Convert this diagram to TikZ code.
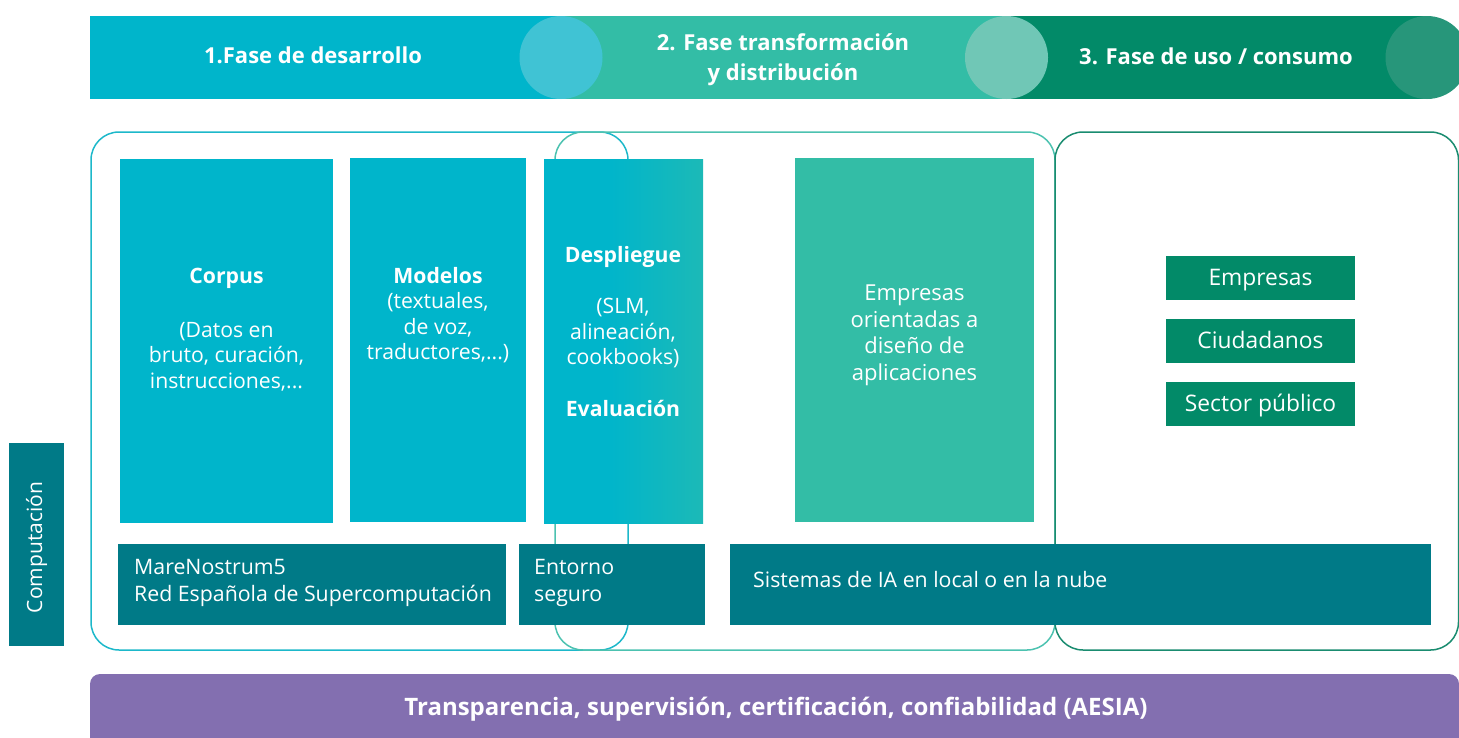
\documentclass[tikz,border=0pt]{standalone}
\usepackage{fontspec}
\setmainfont{Open Sans}
\definecolor{cyanC}{HTML}{00B5CB}
\definecolor{cyanL}{HTML}{40C3D4}
\definecolor{tealC}{HTML}{33BDA6}
\definecolor{tealL}{HTML}{70C7B6}
\definecolor{greenC}{HTML}{028A68}
\definecolor{greenL}{HTML}{27967A}
\definecolor{petrol}{HTML}{007A87}
\definecolor{purp}{HTML}{836FB0}
\definecolor{lineA}{HTML}{1DB8CA}
\definecolor{lineB}{HTML}{4CC2B0}
\definecolor{lineC}{HTML}{1A8C70}
\newcommand\fsbody{\fontsize{21.2}{25.5}\selectfont}
\newcommand\fsorient{\fontsize{22}{26.7}\selectfont}
\newcommand\fscomp{\fontsize{21.3}{26.7}\selectfont}
\newcommand\fstop{\fontsize{22}{30}\selectfont\bfseries}
\newcommand\ctab[1]{\begin{tabular}[t]{@{}c@{}}#1\end{tabular}}
\newcommand\ltab[1]{\begin{tabular}[t]{@{}l@{}}#1\end{tabular}}
\pgfdeclarehorizontalshading{desplshade}{100bp}{color(0bp)=(cyanC); color(45bp)=(cyanC); color(100bp)=(tealC)}
\begin{document}
\begin{tikzpicture}[x=1pt,y=-1pt,
  box/.style={draw=none, inner sep=0pt, outer sep=0pt},
  btxt/.style={text=white, inner sep=0pt, font=\fsbody, anchor=base},
  otxt/.style={text=white, inner sep=0pt, font=\fsorient, anchor=base},
  ltxt/.style={text=white, inner sep=0pt, font=\fscomp, anchor=base west},
  toptxt/.style={text=white, inner sep=0pt, font=\fstop, anchor=base},
  bottxt/.style={text=white, inner sep=0pt, font=\fontsize{24}{28}\selectfont\bfseries, anchor=base},
  frame/.style={line width=1.5pt, rounded corners=28pt},
  uservox/.style={box, fill=greenC, minimum width=189pt, minimum height=44pt, text=white,
    font=\fontsize{22.8}{26}\selectfont, text height=15.4pt, text depth=0pt}
]
\useasboundingbox (0,0) rectangle (1459,737);

% top phase bar
\fill[cyanC] (90,16) rectangle (561,99);
\fill[tealC] (561,16) rectangle (1006.5,99);
\fill[greenC] (1006.5,16) rectangle (1427,99);
\fill[greenL] (1427,57.5) circle[radius=41.5pt];
\fill[cyanL] (561,57.5) circle[radius=41.5pt];
\fill[tealL] (1006.5,57.5) circle[radius=41.5pt];
\node[toptxt] (ph1) at (313,63) {1.Fase de desarrollo};
\node[toptxt] (ph2) at (783,50) {\ctab{2. Fase transformación\\ y distribución}};
\node[toptxt] (ph3) at (1216,64) {3. Fase de uso / consumo};

% phase frames
\draw[frame, lineA] (91,132) rectangle (628,650);
\draw[frame, lineB] (555,132) rectangle (1055,650);
\draw[frame, lineC] (1055,132) rectangle (1458.5,650);

% phase 1 boxes
\node[box, fill=cyanC, minimum width=213pt, minimum height=364pt] (corpus) at (226.5,341) {};
\node[btxt] (corpusT) at (226.5,283.5) {\ctab{\textbf{Corpus}\\[28pt] (Datos en\\ bruto, curación,\\ instrucciones,...}};
\node[box, fill=cyanC, minimum width=176pt, minimum height=364pt] (modelos) at (438,340) {};
\node[btxt] (modelosT) at (438,283) {\ctab{\textbf{Modelos}\\ (textuales,\\ de voz,\\ traductores,...)}};
\node[box, shading=desplshade, minimum width=159pt, minimum height=364pt] (despl) at (623.5,341) {};
\node[btxt] (desplT) at (623,262) {\ctab{\textbf{Despliegue}\\[26pt] (SLM,\\ alineación,\\ cookbooks)\\[26.5pt] \textbf{Evaluación}}};

% phase 2 box
\node[box, fill=tealC, minimum width=239pt, minimum height=364pt] (apps) at (914.5,340) {};
\node[otxt] (appsT) at (914.5,300.5) {\ctab{Empresas\\ orientadas a\\ diseño de\\ aplicaciones}};

% phase 3 users
\node[uservox] (empresas) at (1260.5,278) {Empresas};
\node[uservox] (ciudadanos) at (1260.5,341) {Ciudadanos};
\node[uservox] (sector) at (1260.5,404) {Sector público};

% computing row
\node[box, fill=petrol, minimum width=388pt, minimum height=81pt] (mare) at (312,584.5) {};
\node[ltxt] (mareT) at (134,574.5) {\ltab{MareNostrum5\\ Red Española de Supercomputación}};
\node[box, fill=petrol, minimum width=186pt, minimum height=81pt] (entorno) at (612,584.5) {};
\node[ltxt] (entornoT) at (534,574.5) {\ltab{Entorno\\ seguro}};
\node[box, fill=petrol, minimum width=701pt, minimum height=81pt] (sistemas) at (1080.5,584.5) {};
\node[ltxt] (sistemasT) at (753,587.5) {Sistemas de IA en local o en la nube};

% side label
\node[box, fill=petrol, minimum width=55pt, minimum height=203pt] (comp) at (36.5,544.5) {};
\node[text=white, inner sep=0pt, font=\fontsize{21}{25}\selectfont, anchor=base, rotate=90] (compT) at (42,547.5) {Computación};

% bottom governance bar
\fill[purp, rounded corners=10pt] (90,674) rectangle (1459,760);
\node[bottxt] (aesia) at (776,715) {Transparencia, supervisión, certificación, confiabilidad (AESIA)};
\end{tikzpicture}
\end{document}
